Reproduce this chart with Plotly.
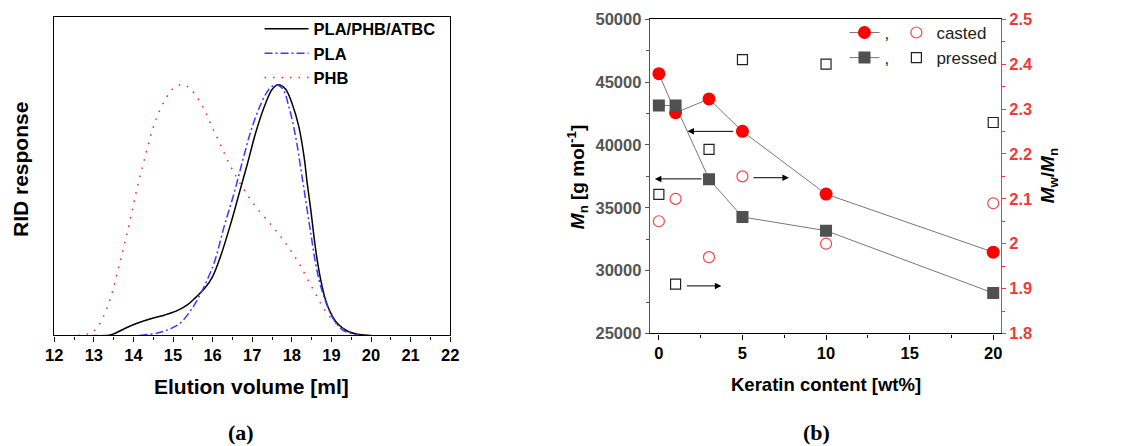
import plotly.graph_objects as go

# ---------------- (a) GPC curves (normalized RID response) ----------------
blend_x = [13.0, 13.44, 13.77, 14.11, 14.44, 14.78, 15.12, 15.37, 15.58, 15.81, 16.0, 16.21, 16.46, 16.67,
           16.88, 17.08, 17.3, 17.51, 17.66, 17.84, 18.01, 18.18, 18.31, 18.39, 18.48, 18.56, 18.64, 18.73,
           18.85, 18.98, 19.14, 19.4, 19.7, 20.0]
blend_y = [0, 0.003, 0.027, 0.05, 0.067, 0.081, 0.1, 0.123, 0.153, 0.19, 0.235, 0.32, 0.447, 0.566,
           0.685, 0.804, 0.91, 0.983, 1.0, 0.983, 0.923, 0.831, 0.712, 0.606, 0.5, 0.394, 0.302, 0.222,
           0.143, 0.09, 0.05, 0.018, 0.004, 0]

pla_x = [14.15, 14.61, 14.94, 15.19, 15.49, 15.66, 15.83, 16.04, 16.29, 16.54, 16.76, 16.97, 17.22, 17.43,
         17.6, 17.77, 17.93, 18.1, 18.22, 18.35, 18.48, 18.6, 18.73, 18.9, 19.06, 19.3, 19.7]
pla_y = [0, 0.01, 0.027, 0.05, 0.11, 0.156, 0.21, 0.29, 0.434, 0.566, 0.698, 0.817, 0.923, 0.983,
         1.0, 0.983, 0.91, 0.79, 0.672, 0.54, 0.407, 0.288, 0.196, 0.116, 0.063, 0.02, 0]

phb_x = [12.6, 13.0, 13.24, 13.42, 13.6, 13.78, 13.95, 14.1, 14.28, 14.47, 14.63, 14.84, 15.0, 15.2,
         15.37, 15.53, 15.77, 15.98, 16.18, 16.38, 16.6, 16.82, 17.07, 17.43, 17.72, 17.97, 18.21, 18.39,
         18.61, 18.81, 19.06, 19.3, 19.6, 20.0]
phb_y = [0, 0.017, 0.075, 0.147, 0.255, 0.368, 0.483, 0.593, 0.702, 0.815, 0.885, 0.951, 0.985, 1.0,
         0.992, 0.967, 0.906, 0.833, 0.767, 0.698, 0.632, 0.575, 0.517, 0.45, 0.394, 0.339, 0.28, 0.226,
         0.163, 0.106, 0.057, 0.025, 0.007, 0]

# ---------------- (b) Keratin series ----------------
keratin = [0, 1, 3, 5, 10, 20]
mn_casted = [45670, 42560, 43660, 41080, 36090, 31470]
mn_pressed = [43140, 43140, 37280, 34270, 33180, 28220]
pdi_casted = [2.05, 2.10, 1.97, 2.15, 2.00, 2.09]
pdi_pressed = [2.11, 1.91, 2.21, 2.41, 2.40, 2.27]

FONT = "Liberation Sans"
RED = "#ff0000"
AXRED = "#f03a3a"
GRAY = "#555555"

fig = go.Figure()

fig.add_trace(go.Scatter(x=blend_x, y=blend_y, mode="lines", name="PLA/PHB/ATBC",
                         line=dict(color="black", width=1.5, shape="spline"), xaxis="x", yaxis="y", legend="legend"))
fig.add_trace(go.Scatter(x=pla_x, y=pla_y, mode="lines", name="PLA",
                         line=dict(color="#3a3aff", width=1.5, shape="spline", dash="8px,3px,2px,3px"),
                         xaxis="x", yaxis="y", legend="legend"))
fig.add_trace(go.Scatter(x=phb_x, y=phb_y, mode="lines", name="PHB",
                         line=dict(color="#ff2020", width=1.5, shape="spline", dash="1.5px,7px"),
                         xaxis="x", yaxis="y", legend="legend"))

# panel b
fig.add_trace(go.Scatter(x=keratin, y=mn_casted, mode="lines+markers", name=",",
                         line=dict(color=GRAY, width=0.8),
                         marker=dict(symbol="circle", size=13, color=RED),
                         xaxis="x2", yaxis="y2", legend="legend2"))
fig.add_trace(go.Scatter(x=keratin, y=mn_pressed, mode="lines+markers", name=",",
                         line=dict(color=GRAY, width=0.8),
                         marker=dict(symbol="square", size=12, color="#505050"),
                         xaxis="x2", yaxis="y2", legend="legend2"))
fig.add_trace(go.Scatter(x=keratin, y=pdi_casted, mode="markers", name="casted",
                         marker=dict(symbol="circle-open", size=11, color="#f04848", line=dict(width=1.2)),
                         xaxis="x2", yaxis="y3", legend="legend3"))
fig.add_trace(go.Scatter(x=keratin, y=pdi_pressed, mode="markers", name="pressed",
                         marker=dict(symbol="square-open", size=10, color="#222222", line=dict(width=1.2)),
                         xaxis="x2", yaxis="y3", legend="legend3"))

W, H = 1123, 446
# The page is displayed inside an 8px body margin; positions below are page pixels.
OFF = 8
EW, EH = W - 2 * OFF, H - 2 * OFF


def px(x):
    return (x - OFF) / EW


def py(y):
    return 1 - (y - OFF) / EH


tick_font = dict(family=FONT, size=16.5, color="black")
B0, B1 = "<b>", "</b>"

fig.update_layout(
    width=W, height=H, autosize=False,
    margin=dict(l=0, r=0, t=0, b=0),
    paper_bgcolor="white", plot_bgcolor="white",
    font=dict(family=FONT),
    xaxis=dict(domain=[px(53.3), px(450)], range=[12, 22], dtick=1, tick0=12,
               showline=True, linecolor="black", linewidth=1.3, mirror=True,
               ticks="outside", ticklen=5, tickwidth=1.3, tickcolor="black",
               minor=dict(ticks="outside", ticklen=3, tickwidth=1.3, dtick=0.5, tickcolor="black"),
               showgrid=False, zeroline=False, tickfont=tick_font, tickprefix=B0, ticksuffix=B1,
               anchor="y"),
    yaxis=dict(domain=[py(336), py(16)], range=[0, 1.27], showticklabels=False, ticks="",
               showline=True, linecolor="black", linewidth=1.3, mirror=True,
               showgrid=False, zeroline=False, anchor="x"),
    xaxis2=dict(domain=[px(650), px(1001.7)], range=[-0.54, 20.46], dtick=5, tick0=0,
                showline=True, linecolor="black", linewidth=1.3, mirror=True,
                ticks="outside", ticklen=5, tickwidth=1.3, tickcolor="black",
                minor=dict(ticks="outside", ticklen=3, tickwidth=1.3, dtick=2.5, tickcolor="black"),
                showgrid=False, zeroline=False, tickfont=tick_font, tickprefix=B0, ticksuffix=B1,
                anchor="y2"),
    yaxis2=dict(domain=[py(334), py(18.3)], range=[25000, 50000], dtick=5000, tickformat="d",
                showline=True, linecolor=GRAY, linewidth=1.3,
                ticks="outside", ticklen=4, tickwidth=1.3, tickcolor=GRAY,
                minor=dict(ticks="outside", ticklen=2.5, tickwidth=1.3, dtick=2500, tickcolor=GRAY),
                showgrid=False, zeroline=False, tickprefix=B0, ticksuffix=B1,
                tickfont=dict(family=FONT, size=16.5, color=GRAY), anchor="x2"),
    yaxis3=dict(range=[1.8, 2.5], dtick=0.1, overlaying="y2", side="right", anchor="x2",
                showline=True, linecolor=AXRED, linewidth=1.3,
                ticks="outside", ticklen=4, tickwidth=1.3, tickcolor=AXRED,
                minor=dict(ticks="outside", ticklen=2.5, tickwidth=1.3, dtick=0.05, tickcolor=AXRED),
                showgrid=False, zeroline=False, tickprefix=B0, ticksuffix=B1,
                tickfont=dict(family=FONT, size=16.5, color=AXRED)),
    legend=dict(x=px(259), y=py(10.5), xanchor="left", yanchor="top", bgcolor="rgba(0,0,0,0)",
                font=dict(family=FONT, size=16.5, color="black", weight="bold"), itemwidth=44,
                tracegroupgap=0),
    legend2=dict(x=px(845), y=py(14), xanchor="left", yanchor="top", bgcolor="rgba(0,0,0,0)",
                 font=dict(family=FONT, size=17, color="#222222"), itemwidth=30, tracegroupgap=0),
    legend3=dict(x=px(897), y=py(14), xanchor="left", yanchor="top", bgcolor="rgba(0,0,0,0)",
                 font=dict(family=FONT, size=17, color="#222222"), itemwidth=30, tracegroupgap=0),
)

ann = []


def text_ann(text, x, y, size, angle=0, family=FONT):
    return dict(text=text, x=px(x), y=py(y), xref="paper", yref="paper", xanchor="center",
                yanchor="middle", textangle=angle, showarrow=False,
                font=dict(family=family, size=size, color="black"))


# axis titles
ann.append(text_ann("<b>RID response</b>", 19.3, 169.5, 21, -90))
ann.append(text_ann("<b>Elution volume [ml]</b>", 251, 387.7, 21))
ann.append(text_ann("<b>Keratin content [wt%]</b>", 826.7, 385, 18.5))
ann.append(text_ann("<b><i>M</i><sub>n</sub> [g mol<sup>-1</sup>]</b>", 578.3, 176.7, 19, -90))
ann.append(text_ann("<b><i>M</i><sub>w</sub>/<i>M</i><sub>n</sub></b>", 1050, 176, 19, -90))
# captions
ann.append(text_ann("<b>(a)</b>", 240, 433, 22, family="Liberation Serif"))
ann.append(text_ann("<b>(b)</b>", 817, 433, 22, family="Liberation Serif"))

# arrows indicating which axis each series belongs to
arrows = [
    (1.71, 41080, 4.54, "y2"),
    (-0.24, 37300, 2.65, "y2"),
    (7.78, 2.147, 5.57, "y3"),
    (3.74, 1.906, 1.59, "y3"),
]
for hx, yy, tx, yr in arrows:
    ann.append(dict(text="", x=hx, y=yy, ax=tx, ay=yy, xref="x2", yref=yr, axref="x2", ayref=yr,
                    showarrow=True, arrowhead=2, arrowsize=1.3, arrowwidth=1, arrowcolor="black",
                    standoff=0, startstandoff=0))

fig.update_layout(annotations=ann)

fig.write_html("out.html")
